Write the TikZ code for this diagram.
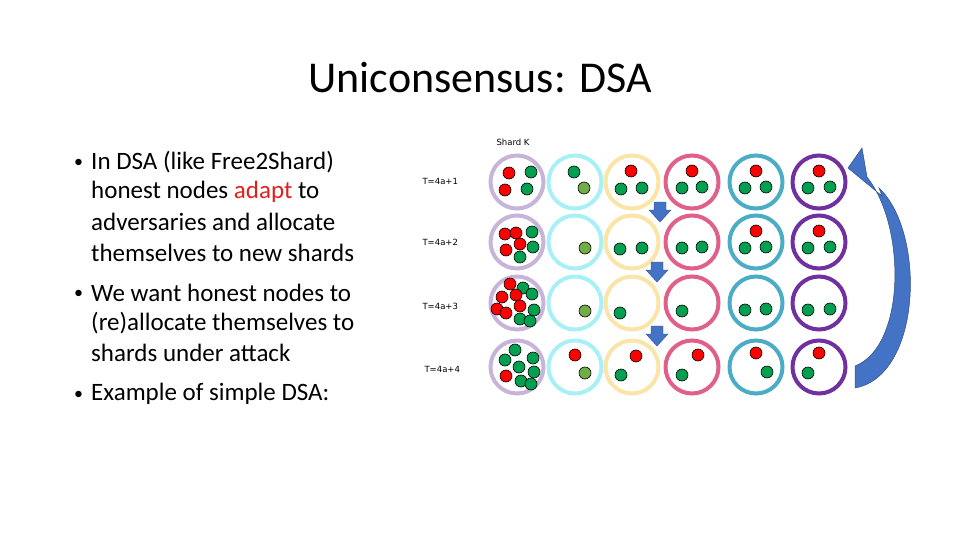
\documentclass[tikz,border=0pt]{standalone}
\usepackage{fontspec}
\setmainfont{Carlito}
\newfontfamily\smallfont{DejaVu Sans}
\definecolor{cA}{HTML}{C8B4D8}
\definecolor{cB}{HTML}{A8F0F8}
\definecolor{cC}{HTML}{FBE4A8}
\definecolor{cD}{HTML}{E0608A}
\definecolor{cE}{HTML}{4BACC6}
\definecolor{cF}{HTML}{7030A0}
\definecolor{dR}{HTML}{FF0000}
\definecolor{dG}{HTML}{00A050}
\definecolor{dO}{HTML}{70AD47}
\definecolor{ablue}{HTML}{4472C4}
\definecolor{hred}{HTML}{E02020}
\tikzset{ring/.style={draw=#1,line width=4pt,circle,minimum size=53pt,inner sep=0pt},
 dot/.style={fill=#1,draw=black,line width=0.6pt,circle,minimum size=12pt,inner sep=0pt},
 lab/.style={font=\smallfont\fontsize{8.5}{9}\selectfont,anchor=west},
 txt/.style={font=\fontsize{25}{28}\selectfont,anchor=west,inner sep=0pt},
 bul/.style={font=\fontsize{18}{20}\selectfont,anchor=west,inner sep=0pt}}
\newcommand\darr[2]{\fill[ablue,draw=ablue!70!black,line width=0.4pt] (#1-6,#2-10) -- (#1+6,#2-10) -- (#1+6,#2-2) -- (#1+11,#2-2) -- (#1,#2+10) -- (#1-11,#2-2) -- (#1-6,#2-2) -- cycle;}
\begin{document}
\begin{tikzpicture}[x=1pt,y=-1pt]
\useasboundingbox (0,0) rectangle (960,540);
\node (title) at (480,78) {\fontsize{44}{50}\selectfont Uniconsensus: DSA};
\node[bul] (b1) at (74,163) {•};
\node[txt] (l1) at (91,162) {In DSA (like Free2Shard)};
\node[txt] (l2) at (91,192) {honest nodes {\color{hred}adapt} to};
\node[txt] (l3) at (91,222) {adversaries and allocate};
\node[txt] (l4) at (91,253) {themselves to new shards};
\node[bul] (b2) at (74,294) {•};
\node[txt] (l5) at (91,293) {We want honest nodes to};
\node[txt] (l6) at (91,323) {(re)allocate themselves to};
\node[txt] (l7) at (91,353) {shards under attack};
\node[bul] (b3) at (74,395) {•};
\node[txt] (l8) at (91,394) {Example of simple DSA:};
\node[lab] (sk) at (493,142) {Shard K};
\node[lab] (t1) at (419,181) {T=4a+1};
\node[lab] (t2) at (419,242) {T=4a+2};
\node[lab] (t3) at (419,306) {T=4a+3};
\node[lab] (t4) at (421,369) {T=4a+4};
\foreach \x/\c/\i in {517/cA/1,575/cB/2,632/cC/3,692/cD/4,756/cE/5,819/cF/6}
 \foreach \y/\j in {182/1,242/2,303/3,367/4}
  \node[ring=\c] (r\i\j) at (\x,\y) {};
% row 1
\foreach \p/\c in {{509,173}/dR,{505,190}/dR,{531,172}/dG,{527,189}/dG,{574,172}/dG,{584,188}/dO,
 {631,171}/dR,{621,189}/dG,{642,188}/dG,{692,171}/dR,{682,188}/dG,{702,187}/dG,
 {756,171}/dR,{745,188}/dG,{766,187}/dG,{819,171}/dR,{808,188}/dG,{830,187}/dG}
 \node[dot=\c] at (\p) {};
% row 2
\foreach \p/\c in {{505,234}/dR,{516,233}/dR,{532,232}/dG,{520,244}/dR,{506,250}/dR,{533,247}/dG,{520,257}/dG,
 {585,248}/dO,{620,249}/dG,{642,248}/dG,{682,248}/dG,{702,247}/dG,
 {756,231}/dR,{745,248}/dG,{766,247}/dG,{819,231}/dR,{808,248}/dG,{830,247}/dG}
 \node[dot=\c] at (\p) {};
% row 3
\foreach \p/\c in {{523,288}/dG,{532,294}/dG,{510,284}/dR,{502,297}/dR,{516,295}/dR,{534,310}/dG,{520,306}/dR,{497,309}/dR,{506,313}/dR,{520,319}/dG,{530,321}/dG,
 {585,311}/dO,{620,313}/dG,{682,311}/dG,{745,310}/dG,{766,309}/dG,{808,310}/dG,{830,309}/dG}
 \node[dot=\c] at (\p) {};
% row 4
\foreach \p/\c in {{515,350}/dG,{505,360}/dG,{533,358}/dG,{519,367}/dG,{534,372}/dG,{506,376}/dR,{521,381}/dG,{531,384}/dG,
 {575,355}/dR,{585,373}/dO,{636,356}/dR,{621,375}/dG,{698,355}/dR,{682,375}/dG,
 {756,353}/dR,{767,372}/dG,{819,353}/dR,{808,373}/dG}
 \node[dot=\c] at (\p) {};
\darr{660}{212}
\darr{657}{272}
\darr{657}{336}
\fill[ablue,draw=ablue!70!black,line width=0.5pt] (855,388) .. controls (922,376) and (926,232) .. (879,188) -- (882,196) -- (848,168) -- (862,148) -- (867,177) .. controls (906,226) and (906,346) .. (855,366) -- cycle;
\end{tikzpicture}
\end{document}
